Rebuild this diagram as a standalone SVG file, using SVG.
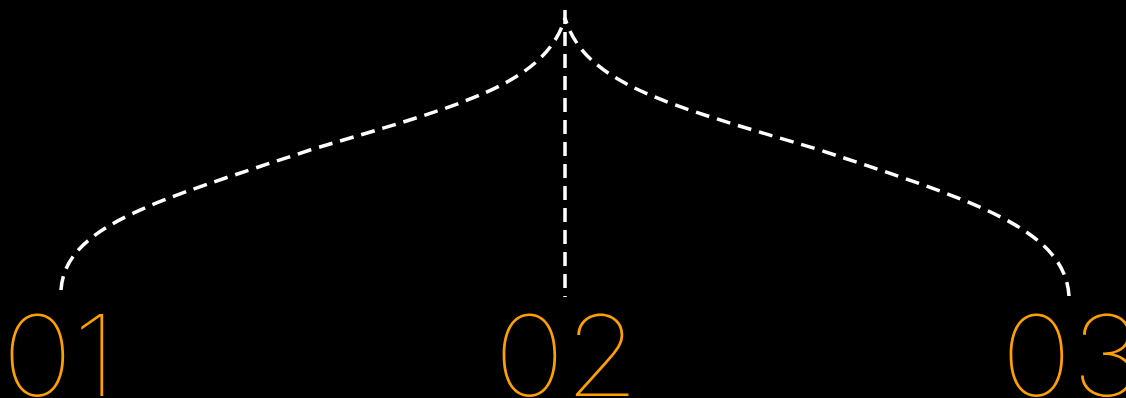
<svg xmlns="http://www.w3.org/2000/svg" width="1126" height="398" viewBox="0 0 1126 398">
<style>
.conn{fill:none;stroke:#fff;stroke-width:3.5;stroke-dasharray:14 8}
.num{font-family:Inter,"Lato","Liberation Sans",sans-serif;font-weight:100;font-size:112px;fill:#FFA000}
</style>
<rect width="1126" height="398" fill="#000"/>
<g id="connectors">
<path class="conn" d="M61,290 C65,225 160,200 310,150 C460,105 545,85 565,18"/>
<path class="conn" d="M1069,296 C1065,228 970,200 820,150 C670,105 585,85 565,18"/>
<path class="conn" d="M565,10 L565,297"/>
</g>
<g id="n01" transform="translate(2,0) scale(1.07,1)"><text class="num" x="0" y="396">01</text></g>
<g id="n02" transform="translate(494,0) scale(1.07,1)"><text class="num" x="0" y="396">02</text></g>
<g id="n03" transform="translate(1001,0) scale(1.07,1)"><text class="num" x="0" y="396">03</text></g>
</svg>
